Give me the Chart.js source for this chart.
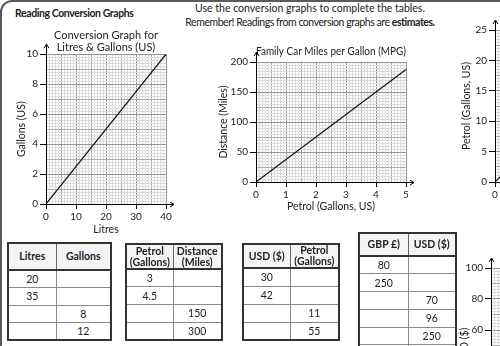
<!DOCTYPE html>
<html>
<head>
<meta charset="utf-8">
<script src="https://cdn.jsdelivr.net/npm/chart.js@4.4.0/dist/chart.umd.min.js"></script>
<style>
html, body { margin: 0; padding: 0; background: #fff; }
#page { position: relative; width: 500px; height: 346px; overflow: hidden; font-family: Lato, sans-serif; color: #222; }
#frame { position: absolute; left: 0; top: 0; width: 620px; height: 420px; border: 2px solid #5a5a5a; border-radius: 12px; }
#heading { position: absolute; left: 15px; top: 6px; font-weight: bold; font-size: 10.5px; letter-spacing: -0.4px; line-height: 14px; }
#instr { position: absolute; left: 160px; top: 1px; width: 300px; text-align: center; font-size: 10.5px; line-height: 14px; }
#instr .l2 { letter-spacing: -0.45px; }
.chartbox { position: absolute; }
table { position: absolute; border-collapse: collapse; table-layout: fixed; border: 2px solid #333; font-size: 10.5px; }
th { font-weight: bold; background: #f4f4f4; border: 1px solid #666; border-bottom: 2px solid #333; line-height: 11px; padding: 0; }
td { border: 1px solid #888; padding: 0; text-align: center; }
</style>
</head>
<body>
<div id="page">
  <div id="frame"></div>
  <div id="heading">Reading Conversion Graphs</div>
  <div id="instr">Use the conversion graphs to complete the tables.<br><span class="l2">Remember! Readings from conversion graphs are <b>estimates.</b></span></div>
  <div class="chartbox" style="left:0;top:28px"><canvas id="c1" width="178" height="208"></canvas></div>
  <div class="chartbox" style="left:200px;top:38px"><canvas id="c2" width="216" height="175"></canvas></div>
  <div class="chartbox" style="left:440px;top:18px"><canvas id="c3" width="220" height="184"></canvas></div>
  <div class="chartbox" style="left:430px;top:250px"><canvas id="c4" width="221" height="203"></canvas></div>
</div>
<script>
// conversion lines
var litres = [0, 40];
var gallons = [0, 10];
var mpgPetrol = [0, 5];
var mpgMiles = [0, 187.5];
var usdSpend = [0, 100];
var usdPetrol = [0, 25];
var gbpAmount = [0, 80];
var gbpUsd = [0, 100];

// tables
var t1Head = [['Litres'], ['Gallons']];
var t1Litres = ['20', '35', '', ''];
var t1Gallons = ['', '', '8', '12'];
var t2Head = [['Petrol', '(Gallons)'], ['Distance', '(Miles)']];
var t2Petrol = ['3', '4.5', '', ''];
var t2Miles = ['', '', '150', '300'];
var t3Head = [['USD ($)'], ['Petrol', '(Gallons)']];
var t3Usd = ['30', '42', '', ''];
var t3Petrol = ['', '', '11', '55'];
var t4Head = [['GBP £)'], ['USD ($)']];
var t4Gbp = ['80', '250', '', '', '', ''];
var t4Usd = ['', '', '70', '96', '250', ''];

function makeTable(head, colA, colB, o) {
  var t = document.createElement('table');
  t.style.left = o.left + 'px';
  t.style.top = o.top + 'px';
  t.style.width = (o.wA + o.wB) + 'px';
  var cg = document.createElement('colgroup');
  [o.wA, o.wB].forEach(function (w) {
    var c = document.createElement('col');
    c.style.width = w + 'px';
    cg.appendChild(c);
  });
  t.appendChild(cg);
  var tr = document.createElement('tr');
  tr.style.height = o.headH + 'px';
  head.forEach(function (lines) {
    var th = document.createElement('th');
    th.innerHTML = lines.join('<br>');
    tr.appendChild(th);
  });
  t.appendChild(tr);
  for (var i = 0; i < colA.length; i++) {
    var r = document.createElement('tr');
    r.style.height = o.rowH + 'px';
    [colA[i], colB[i]].forEach(function (v) {
      var td = document.createElement('td');
      td.textContent = v;
      r.appendChild(td);
    });
    t.appendChild(r);
  }
  document.getElementById('page').appendChild(t);
}

makeTable(t1Head, t1Litres, t1Gallons, { left: 7, top: 242, wA: 48, wB: 55, headH: 27, rowH: 17.5 });
makeTable(t2Head, t2Petrol, t2Miles, { left: 125, top: 243, wA: 47, wB: 49, headH: 25, rowH: 17.8 });
makeTable(t3Head, t3Usd, t3Petrol, { left: 242, top: 243, wA: 47, wB: 49, headH: 23, rowH: 18 });
makeTable(t4Head, t4Gbp, t4Usd, { left: 358, top: 232, wA: 49, wB: 48, headH: 23, rowH: 17.8 });

function near(v, m) { return Math.abs(v / m - Math.round(v / m)) < 1e-6; }

function axis(o) {
  return {
    type: 'linear', min: o.min, max: o.max,
    border: { color: '#000', width: 1 },
    grid: {
      lineWidth: 1,
      tickLength: o.tickLength,
      color: function (c) {
        var v = c.tick.value;
        if (near(v, o.major)) return '#959595';
        if (near(v, o.mid)) return '#ababab';
        return '#dcdcdc';
      },
      tickColor: function (c) { return near(c.tick.value, o.label) ? '#000' : 'rgba(0,0,0,0)'; }
    },
    ticks: {
      stepSize: o.step, autoSkip: false, maxRotation: 0, padding: o.pad,
      color: '#222', font: { family: 'Lato', size: 10 },
      callback: function (v) { return near(v, o.label) ? String(v) : ''; }
    },
    title: {
      display: !!o.title, text: o.title, color: '#222',
      font: { family: 'Lato', size: 10.5 },
      padding: o.dir == 'y' ? { top: 5, bottom: 0 } : { top: 0, bottom: 0 }
    },
    afterFit: function (s) { if (o.dir == 'y') s.width = o.size; else s.height = o.size; }
  };
}

var arrows = {
  id: 'arrows',
  afterDraw: function (chart) {
    var a = chart.chartArea, ctx = chart.ctx;
    var x0 = Math.round(a.left) + 0.5, y0 = Math.round(a.bottom) + 0.5;
    ctx.save();
    ctx.strokeStyle = '#000';
    ctx.lineWidth = 1;
    ctx.beginPath();
    ctx.moveTo(x0, a.top); ctx.lineTo(x0, a.top - 10);
    ctx.moveTo(x0 - 2.5, a.top - 6); ctx.lineTo(x0, a.top - 10); ctx.lineTo(x0 + 2.5, a.top - 6);
    ctx.moveTo(a.right, y0); ctx.lineTo(a.right + 8, y0);
    ctx.moveTo(a.right + 4, y0 - 2.5); ctx.lineTo(a.right + 8, y0); ctx.lineTo(a.right + 4, y0 + 2.5);
    ctx.stroke();
    ctx.restore();
  }
};

function points(xs, ys) {
  return xs.map(function (x, i) { return { x: x, y: ys[i] }; });
}

function makeChart(id, data, x, y, pad, title) {
  new Chart(document.getElementById(id), {
    type: 'scatter',
    data: { datasets: [{ data: data, showLine: true, borderColor: '#111', borderWidth: 1.2, pointRadius: 0 }] },
    options: {
      responsive: false, animation: false, devicePixelRatio: 1,
      layout: { padding: pad },
      plugins: {
        legend: { display: false }, tooltip: { enabled: false },
        title: title || { display: false }
      },
      scales: { x: x, y: y }
    },
    plugins: [arrows]
  });
}

makeChart('c1', points(litres, gallons),
  axis({ dir: 'x', min: 0, max: 40, step: 1, mid: 5, major: 10, label: 10, tickLength: 5, pad: 2, size: 32, title: 'Litres' }),
  axis({ dir: 'y', min: 0, max: 10, step: 0.2, mid: 1, major: 2, label: 2, tickLength: 6, pad: 2, size: 36, title: 'Gallons (US)' }),
  { left: 10, right: 12, top: 1, bottom: 0 },
  { display: true, text: ['Conversion Graph for', 'Litres & Gallons (US)'], fullSize: false, color: '#222',
    font: { family: 'Lato', size: 11, weight: 'normal', lineHeight: 1.1 }, padding: { top: 0, bottom: 1 } });

makeChart('c2', points(mpgPetrol, mpgMiles),
  axis({ dir: 'x', min: 0, max: 5, step: 0.1, mid: 0.5, major: 1, label: 1, tickLength: 5, pad: 2, size: 31, title: 'Petrol (Gallons, US)' }),
  axis({ dir: 'y', min: 0, max: 200, step: 5, mid: 25, major: 50, label: 50, tickLength: 6, pad: 2, size: 44, title: 'Distance (Miles)' }),
  { left: 12, right: 10, top: 0, bottom: 0 },
  { display: true, text: 'Family Car Miles per Gallon (MPG)', align: 'end', fullSize: false, color: '#222',
    font: { family: 'Lato', size: 11, weight: 'normal', lineHeight: 1.1 }, padding: { top: 7, bottom: 5 } });

makeChart('c3', points(usdSpend, usdPetrol),
  axis({ dir: 'x', min: 0, max: 100, step: 2, mid: 10, major: 20, label: 20, tickLength: 5, pad: 2, size: 20 }),
  axis({ dir: 'y', min: 0, max: 25, step: 0.5, mid: 2.5, major: 5, label: 5, tickLength: 6, pad: 2, size: 40, title: 'Petrol (Gallons, US)' }),
  { left: 15, right: 15, top: 12, bottom: 0 });

makeChart('c4', points(gbpAmount, gbpUsd),
  axis({ dir: 'x', min: 0, max: 80, step: 2, mid: 10, major: 20, label: 20, tickLength: 5, pad: 2, size: 30 }),
  axis({ dir: 'y', min: 0, max: 100, step: 2, mid: 10, major: 20, label: 20, tickLength: 6, pad: 2, size: 38, title: 'USD ($)' }),
  { left: 23, right: 10, top: 18, bottom: 0 });
</script>
</body>
</html>
